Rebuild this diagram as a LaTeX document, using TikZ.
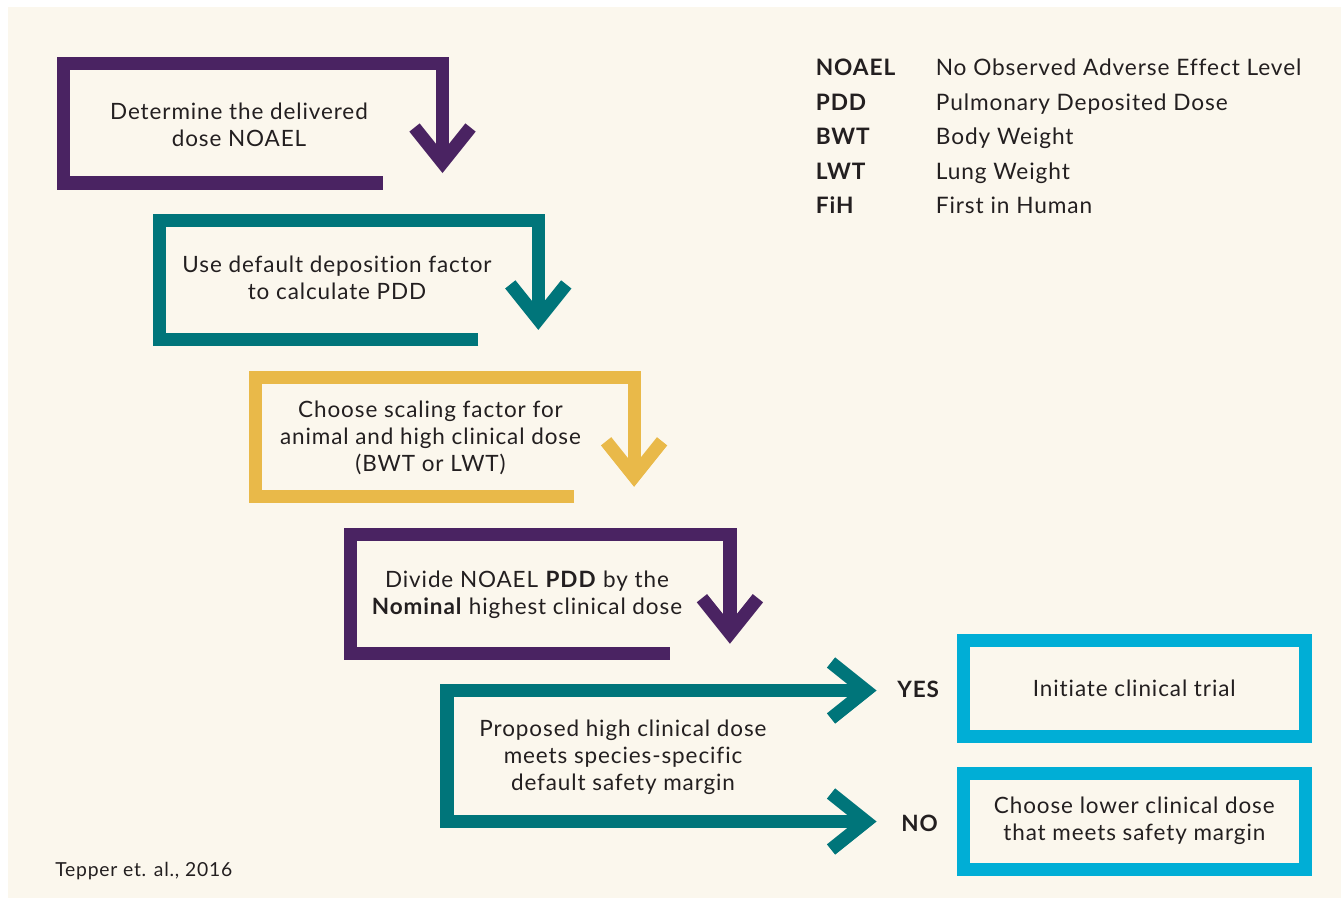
\documentclass[tikz,border=0pt]{standalone}
\usepackage{fontspec}
\setmainfont{Lato}[LetterSpace=4, Ligatures=NoCommon]
\usetikzlibrary{calc}
\definecolor{cream}{RGB}{251,247,237}
\definecolor{inkdark}{RGB}{35,31,32}
\definecolor{plum}{RGB}{74,35,98}
\definecolor{deepteal}{RGB}{0,117,122}
\definecolor{mustard}{RGB}{233,185,73}
\definecolor{skyblue}{RGB}{0,174,214}
\tikzset{
  stepframe/.style={
    line width=7.5pt,
    line join=miter,
    line cap=butt
  },
  steptext/.style={
    align=center,
    text=inkdark,
    inner sep=0pt,
    font=\fontsize{12.8}{15.3}\selectfont
  },
  outcome/.style={
    draw=skyblue,
    line width=7.5pt,
    minimum width=6.84cm,
    minimum height=1.92cm,
    align=center,
    text=inkdark,
    font=\fontsize{12.8}{15.3}\selectfont
  },
  verdict/.style={
    anchor=base west,
    inner sep=0pt,
    text=inkdark,
    font=\fontsize{12.8}{15}\selectfont\bfseries
  },
  abbr/.style={
    anchor=base west,
    inner sep=0pt,
    text=inkdark,
    font=\fontsize{12.9}{15}\selectfont\bfseries
  },
  meaning/.style={
    anchor=base west,
    inner sep=0pt,
    text=inkdark,
    font=\fontsize{12.9}{15}\selectfont
  },
  chev/.pic={
    \draw[stepframe, pic actions] (-35,-28) -- (0,0) -- (-35,28);
  }
}

\begin{document}
\begin{tikzpicture}[x=0.02cm, y=-0.02cm]
\useasboundingbox (0,0) rectangle (1341,898);
\fill[white] (0,0) rectangle (1341,898);
\fill[cream] (8,7) rectangle (1341,898);

% corners of the step frames
\coordinate (f1) at (63.5,63.5);
\coordinate (f2) at (159.3,220.4);
\coordinate (f3) at (255.1,377.3);
\coordinate (f4) at (350.9,534.2);
\coordinate (f5) at (447,690.5);

\node[steptext] (s1) at (239,124.5) {Determine the delivered\\dose NOAEL};
\node[steptext] (s2) at (337,278) {Use default deposition factor\\to calculate PDD};
\node[steptext] (s3) at (430.5,438) {Choose scaling factor for\\animal and high clinical dose\\(BWT or LWT)};
\node[steptext] (s4) at (527,595) {Divide NOAEL \textbf{PDD} by the\\\textbf{Nominal} highest clinical dose};
\node[steptext] (s5) at (623,757) {Proposed high clinical dose\\meets species-specific\\default safety margin};

\draw[stepframe, plum] ($(f1)+(319,119.5)$) -| (f1) -| ($(f1)+(379,99)$) coordinate (v1);
\draw[stepframe, deepteal] ($(f2)+(319,119.5)$) -| (f2) -| ($(f2)+(379,99)$) coordinate (v2);
\draw[stepframe, mustard] ($(f3)+(319,119.5)$) -| (f3) -| ($(f3)+(379,99)$) coordinate (v3);
\draw[stepframe, plum] ($(f4)+(319,119.5)$) -| (f4) -| ($(f4)+(379,99)$) coordinate (v4);
\pic[plum, rotate=-90] at (v1) {chev};
\pic[deepteal, rotate=-90] at (v2) {chev};
\pic[mustard, rotate=-90] at (v3) {chev};
\pic[plum, rotate=-90] at (v4) {chev};

% decision
\coordinate (yesTip) at ($(f5)+(419,0)$);
\coordinate (noTip) at ($(f5)+(419,131)$);
\draw[stepframe, deepteal] (yesTip) -- (f5) |- (noTip);
\pic[deepteal] at (yesTip) {chev};
\pic[deepteal] at (noTip) {chev};

\node[verdict] (yes) at (897,697) {YES};
\node[verdict] (no) at (901,831) {NO};

\node[outcome] (trial) at (1134.3,688.7) {Initiate clinical trial};
\node[outcome] (lower) at (1134.3,821.2) {Choose lower clinical dose\\that meets safety margin};

% legend
\node[abbr] (noael) at (815.5,76) {NOAEL};
\node[meaning] (noaelDef) at (935.5,76) {No Observed Adverse Effect Level};
\node[abbr] (pdd) at (815.5,110.5) {PDD};
\node[meaning] (pddDef) at (935.5,110.5) {Pulmonary Deposited Dose};
\node[abbr] (bwt) at (815.5,145) {BWT};
\node[meaning] (bwtDef) at (935.5,145) {Body Weight};
\node[abbr] (lwt) at (815.5,179.5) {LWT};
\node[meaning] (lwtDef) at (935.5,179.5) {Lung Weight};
\node[abbr] (fih) at (815.5,214) {FiH};
\node[meaning] (fihDef) at (935.5,214) {First in Human};

\node[anchor=base west, inner sep=0pt, text=inkdark, font=\fontsize{11}{13}\selectfont] (cite) at (55,876) {Tepper et. al., 2016};
\end{tikzpicture}
\end{document}
